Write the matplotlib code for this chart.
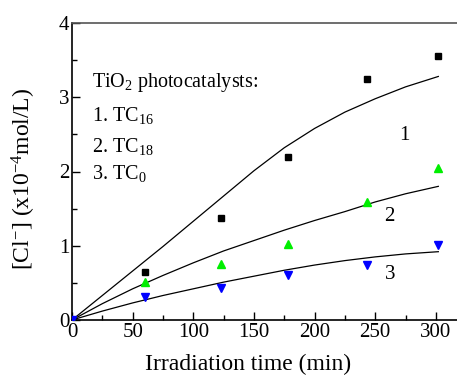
import matplotlib
matplotlib.use("Agg")
import matplotlib.pyplot as plt
from matplotlib.ticker import MultipleLocator

plt.rcParams['font.family'] = ['Liberation Serif', 'DejaVu Serif']
plt.rcParams['mathtext.fontset'] = 'custom'
plt.rcParams['mathtext.rm'] = 'Liberation Serif'
plt.rcParams['mathtext.it'] = 'Liberation Serif:italic'
plt.rcParams['mathtext.bf'] = 'Liberation Serif:bold'

# measured data
time_min = [0, 60, 123, 178, 243, 302]
tc16 = [0.0, 0.65, 1.38, 2.19, 3.24, 3.55]
tc18 = [0.0, 0.51, 0.76, 1.03, 1.59, 2.05]
tc0 = [0.0, 0.31, 0.43, 0.61, 0.74, 1.01]

# fitted curves
fit_t = [0, 25, 50, 75, 100, 125, 150, 175, 200, 225, 250, 275, 302]
fit_tc16 = [0.0, 0.33, 0.66, 0.99, 1.33, 1.67, 2.01, 2.32, 2.58, 2.80, 2.98, 3.14, 3.28]
fit_tc18 = [0.0, 0.22, 0.42, 0.60, 0.77, 0.93, 1.07, 1.21, 1.34, 1.46, 1.59, 1.70, 1.80]
fit_tc0 = [0.0, 0.12, 0.23, 0.33, 0.42, 0.51, 0.59, 0.67, 0.74, 0.80, 0.85, 0.89, 0.92]

curve_labels = ['1', '2', '3']
curve_label_pos = [(274, 2.49), (262, 1.39), (262, 0.61)]

fig = plt.figure(figsize=(4.57, 3.76), dpi=100)
ax = fig.add_axes([72/457, 56/376, 1 - 72/457, 297/376])

for fy in (fit_tc16, fit_tc18, fit_tc0):
    ax.plot(fit_t, fy, color='black', lw=0.9, zorder=2)

ax.plot(time_min, tc16, ls='none', marker='s', ms=5, color='black', zorder=3)
ax.plot(time_min, tc18, ls='none', marker='^', ms=6, color='#00ee00', zorder=3)
ax.plot(time_min, tc0, ls='none', marker='v', ms=6, color='#0000ff', zorder=3)

for lab, (x, y) in zip(curve_labels, curve_label_pos):
    ax.text(x, y, lab, fontsize=15, ha='center', va='center')

ax.text(16.5, 3.2, r'TiO$_\mathregular{2}$ photocatalysts:', fontsize=14.5, ha='left', va='center')
ax.text(16.5, 2.76, r'1. TC$_\mathregular{16}$', fontsize=14.5, ha='left', va='center')
ax.text(16.5, 2.33, r'2. TC$_\mathregular{18}$', fontsize=14.5, ha='left', va='center')
ax.text(16.5, 1.97, r'3. TC$_\mathregular{0}$', fontsize=14.5, ha='left', va='center')

ax.set_xlim(0, 317.4)
ax.set_ylim(0, 4)
ax.xaxis.set_major_locator(MultipleLocator(50))
ax.xaxis.set_minor_locator(MultipleLocator(25))
ax.yaxis.set_major_locator(MultipleLocator(1))
ax.yaxis.set_minor_locator(MultipleLocator(0.5))
ax.tick_params(which='both', direction='in', top=False, right=False, labelsize=15, width=1)
ax.tick_params(which='major', length=6, pad=2)
ax.tick_params(which='minor', length=3.5)
ax.spines['right'].set_visible(False)
for s in ('left', 'bottom'):
    ax.spines[s].set_linewidth(1.2)
ax.spines['top'].set_linewidth(1.2)
ax.spines['top'].set_color('#555555')

ax.set_xlabel('Irradiation time (min)', fontsize=17)
ax.set_ylabel(r'[Cl$^\mathregular{-}$] (x10$^\mathregular{-4}$mol/L)', fontsize=17)
ax.xaxis.set_label_coords(0.458, -0.115)
ax.yaxis.set_label_coords(-0.088, 0.476)

fig.savefig('out.png', dpi=100)
